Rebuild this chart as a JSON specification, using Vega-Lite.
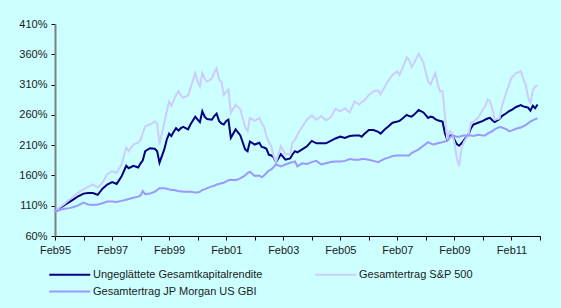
{
  "$schema": "https://vega.github.io/schema/vega-lite/v6.json",
  "width": 485,
  "height": 212,
  "autosize": "none",
  "padding": {"left": 55, "top": 24, "right": 21, "bottom": 72},
  "background": "#CCFFFF",
  "config": {"view": {"stroke": null}, "font": "Liberation Sans"},
  "data": {
    "values": [
      {"Datum": "1995-02-01", "U": 100, "S": 100, "J": 100},
      {"Datum": "1995-04-01", "U": 106, "S": 107, "J": 103},
      {"Datum": "1995-06-01", "U": 111, "S": 113, "J": 105},
      {"Datum": "1995-08-01", "U": 116, "S": 120, "J": 106},
      {"Datum": "1995-10-01", "U": 121, "S": 126, "J": 108},
      {"Datum": "1995-12-01", "U": 126, "S": 132, "J": 111},
      {"Datum": "1996-02-01", "U": 130, "S": 137, "J": 115},
      {"Datum": "1996-04-01", "U": 131, "S": 141, "J": 112},
      {"Datum": "1996-06-01", "U": 131, "S": 145, "J": 111},
      {"Datum": "1996-08-01", "U": 128, "S": 140, "J": 112},
      {"Datum": "1996-10-01", "U": 138, "S": 148, "J": 114},
      {"Datum": "1996-12-01", "U": 145, "S": 162, "J": 117},
      {"Datum": "1997-02-01", "U": 149, "S": 167, "J": 117},
      {"Datum": "1997-04-01", "U": 146, "S": 164, "J": 116},
      {"Datum": "1997-06-01", "U": 158, "S": 178, "J": 118},
      {"Datum": "1997-08-01", "U": 176, "S": 206, "J": 120},
      {"Datum": "1997-09-01", "U": 172, "S": 200, "J": 121},
      {"Datum": "1997-11-01", "U": 176, "S": 211, "J": 123},
      {"Datum": "1998-01-01", "U": 173, "S": 214, "J": 125},
      {"Datum": "1998-02-01", "U": 180, "S": 219, "J": 127},
      {"Datum": "1998-03-01", "U": 185, "S": 230, "J": 134},
      {"Datum": "1998-04-01", "U": 200, "S": 241, "J": 129},
      {"Datum": "1998-06-01", "U": 205, "S": 244, "J": 130},
      {"Datum": "1998-08-01", "U": 204, "S": 249, "J": 133},
      {"Datum": "1998-09-01", "U": 200, "S": 246, "J": 136},
      {"Datum": "1998-10-01", "U": 181, "S": 211, "J": 139},
      {"Datum": "1998-12-01", "U": 203, "S": 247, "J": 139},
      {"Datum": "1999-01-01", "U": 219, "S": 265, "J": 138},
      {"Datum": "1999-02-01", "U": 229, "S": 282, "J": 137},
      {"Datum": "1999-03-01", "U": 225, "S": 275, "J": 136},
      {"Datum": "1999-04-01", "U": 232, "S": 284, "J": 136},
      {"Datum": "1999-05-01", "U": 238, "S": 293, "J": 135},
      {"Datum": "1999-06-01", "U": 234, "S": 299, "J": 134},
      {"Datum": "1999-07-01", "U": 238, "S": 292, "J": 134},
      {"Datum": "1999-08-01", "U": 240, "S": 288, "J": 133},
      {"Datum": "1999-10-01", "U": 236, "S": 292, "J": 133},
      {"Datum": "1999-11-01", "U": 244, "S": 304, "J": 133},
      {"Datum": "2000-01-01", "U": 257, "S": 329, "J": 132},
      {"Datum": "2000-02-01", "U": 252, "S": 315, "J": 132},
      {"Datum": "2000-03-01", "U": 248, "S": 307, "J": 133},
      {"Datum": "2000-04-01", "U": 266, "S": 329, "J": 136},
      {"Datum": "2000-05-01", "U": 257, "S": 320, "J": 137},
      {"Datum": "2000-06-01", "U": 253, "S": 315, "J": 139},
      {"Datum": "2000-08-01", "U": 252, "S": 320, "J": 142},
      {"Datum": "2000-09-01", "U": 258, "S": 330, "J": 143},
      {"Datum": "2000-10-01", "U": 262, "S": 337, "J": 145},
      {"Datum": "2000-11-01", "U": 250, "S": 318, "J": 146},
      {"Datum": "2000-12-01", "U": 246, "S": 315, "J": 147},
      {"Datum": "2001-01-01", "U": 244, "S": 293, "J": 148},
      {"Datum": "2001-02-01", "U": 250, "S": 298, "J": 150},
      {"Datum": "2001-03-01", "U": 252, "S": 302, "J": 152},
      {"Datum": "2001-04-01", "U": 222, "S": 263, "J": 153},
      {"Datum": "2001-06-01", "U": 236, "S": 277, "J": 152},
      {"Datum": "2001-08-01", "U": 226, "S": 269, "J": 155},
      {"Datum": "2001-10-01", "U": 203, "S": 240, "J": 160},
      {"Datum": "2001-11-01", "U": 200, "S": 233, "J": 164},
      {"Datum": "2001-12-01", "U": 216, "S": 255, "J": 166},
      {"Datum": "2002-02-01", "U": 211, "S": 250, "J": 159},
      {"Datum": "2002-04-01", "U": 214, "S": 255, "J": 160},
      {"Datum": "2002-05-01", "U": 207, "S": 246, "J": 157},
      {"Datum": "2002-06-01", "U": 206, "S": 240, "J": 160},
      {"Datum": "2002-07-01", "U": 204, "S": 225, "J": 164},
      {"Datum": "2002-08-01", "U": 194, "S": 215, "J": 168},
      {"Datum": "2002-09-01", "U": 193, "S": 208, "J": 170},
      {"Datum": "2002-10-01", "U": 190, "S": 192, "J": 174},
      {"Datum": "2002-11-01", "U": 182, "S": 182, "J": 178},
      {"Datum": "2003-01-01", "U": 195, "S": 208, "J": 175},
      {"Datum": "2003-03-01", "U": 186, "S": 195, "J": 178},
      {"Datum": "2003-05-01", "U": 188, "S": 195, "J": 181},
      {"Datum": "2003-06-01", "U": 195, "S": 215, "J": 182},
      {"Datum": "2003-07-01", "U": 200, "S": 219, "J": 183},
      {"Datum": "2003-08-01", "U": 198, "S": 227, "J": 175},
      {"Datum": "2003-10-01", "U": 203, "S": 240, "J": 180},
      {"Datum": "2003-12-01", "U": 208, "S": 252, "J": 179},
      {"Datum": "2004-02-01", "U": 217, "S": 259, "J": 182},
      {"Datum": "2004-04-01", "U": 213, "S": 252, "J": 184},
      {"Datum": "2004-06-01", "U": 213, "S": 258, "J": 178},
      {"Datum": "2004-08-01", "U": 213, "S": 251, "J": 180},
      {"Datum": "2004-10-01", "U": 217, "S": 256, "J": 182},
      {"Datum": "2004-12-01", "U": 221, "S": 270, "J": 183},
      {"Datum": "2005-02-01", "U": 224, "S": 266, "J": 183},
      {"Datum": "2005-04-01", "U": 222, "S": 271, "J": 184},
      {"Datum": "2005-06-01", "U": 225, "S": 264, "J": 187},
      {"Datum": "2005-08-01", "U": 226, "S": 282, "J": 186},
      {"Datum": "2005-10-01", "U": 226, "S": 277, "J": 186},
      {"Datum": "2005-11-01", "U": 224, "S": 281, "J": 187},
      {"Datum": "2005-12-01", "U": 228, "S": 283, "J": 187},
      {"Datum": "2006-02-01", "U": 235, "S": 293, "J": 186},
      {"Datum": "2006-04-01", "U": 235, "S": 299, "J": 184},
      {"Datum": "2006-06-01", "U": 232, "S": 300, "J": 182},
      {"Datum": "2006-07-01", "U": 229, "S": 294, "J": 184},
      {"Datum": "2006-09-01", "U": 237, "S": 308, "J": 188},
      {"Datum": "2006-10-01", "U": 240, "S": 315, "J": 189},
      {"Datum": "2006-12-01", "U": 247, "S": 326, "J": 192},
      {"Datum": "2007-02-01", "U": 249, "S": 332, "J": 193},
      {"Datum": "2007-03-01", "U": 250, "S": 326, "J": 193},
      {"Datum": "2007-04-01", "U": 253, "S": 335, "J": 193},
      {"Datum": "2007-06-01", "U": 260, "S": 355, "J": 193},
      {"Datum": "2007-07-01", "U": 258, "S": 351, "J": 193},
      {"Datum": "2007-08-01", "U": 257, "S": 339, "J": 197},
      {"Datum": "2007-09-01", "U": 260, "S": 345, "J": 199},
      {"Datum": "2007-11-01", "U": 268, "S": 361, "J": 203},
      {"Datum": "2008-01-01", "U": 264, "S": 346, "J": 209},
      {"Datum": "2008-03-01", "U": 255, "S": 315, "J": 215},
      {"Datum": "2008-04-01", "U": 257, "S": 310, "J": 213},
      {"Datum": "2008-05-01", "U": 256, "S": 320, "J": 211},
      {"Datum": "2008-06-01", "U": 253, "S": 329, "J": 212},
      {"Datum": "2008-07-01", "U": 251, "S": 310, "J": 213},
      {"Datum": "2008-08-01", "U": 250, "S": 299, "J": 214},
      {"Datum": "2008-09-01", "U": 249, "S": 299, "J": 215},
      {"Datum": "2008-10-01", "U": 230, "S": 260, "J": 216},
      {"Datum": "2008-11-01", "U": 219, "S": 219, "J": 217},
      {"Datum": "2008-12-01", "U": 225, "S": 233, "J": 222},
      {"Datum": "2009-01-01", "U": 227, "S": 230, "J": 226},
      {"Datum": "2009-02-01", "U": 219, "S": 214, "J": 225},
      {"Datum": "2009-03-01", "U": 212, "S": 190, "J": 224},
      {"Datum": "2009-04-01", "U": 209, "S": 175, "J": 224},
      {"Datum": "2009-05-01", "U": 213, "S": 203, "J": 225},
      {"Datum": "2009-06-01", "U": 218, "S": 215, "J": 226},
      {"Datum": "2009-08-01", "U": 228, "S": 228, "J": 226},
      {"Datum": "2009-09-01", "U": 238, "S": 247, "J": 226},
      {"Datum": "2009-10-01", "U": 244, "S": 249, "J": 225},
      {"Datum": "2009-12-01", "U": 247, "S": 255, "J": 227},
      {"Datum": "2010-02-01", "U": 250, "S": 269, "J": 226},
      {"Datum": "2010-03-01", "U": 252, "S": 274, "J": 226},
      {"Datum": "2010-04-01", "U": 254, "S": 285, "J": 229},
      {"Datum": "2010-05-01", "U": 255, "S": 283, "J": 231},
      {"Datum": "2010-06-01", "U": 251, "S": 270, "J": 233},
      {"Datum": "2010-07-01", "U": 248, "S": 252, "J": 236},
      {"Datum": "2010-09-01", "U": 253, "S": 254, "J": 240},
      {"Datum": "2010-10-01", "U": 258, "S": 274, "J": 239},
      {"Datum": "2010-12-01", "U": 263, "S": 299, "J": 236},
      {"Datum": "2011-01-01", "U": 266, "S": 310, "J": 233},
      {"Datum": "2011-02-01", "U": 268, "S": 321, "J": 234},
      {"Datum": "2011-04-01", "U": 273, "S": 329, "J": 237},
      {"Datum": "2011-06-01", "U": 276, "S": 332, "J": 239},
      {"Datum": "2011-07-01", "U": 274, "S": 320, "J": 241},
      {"Datum": "2011-08-01", "U": 273, "S": 310, "J": 243},
      {"Datum": "2011-09-01", "U": 272, "S": 290, "J": 246},
      {"Datum": "2011-10-01", "U": 267, "S": 278, "J": 249},
      {"Datum": "2011-11-01", "U": 275, "S": 300, "J": 251},
      {"Datum": "2011-12-01", "U": 271, "S": 307, "J": 253},
      {"Datum": "2012-01-01", "U": 277, "S": 308, "J": 254}
    ]
  },
  "transform": [
    {"fold": ["U", "S", "J"], "as": ["Code", "Wert"]},
    {"lookup": "Code", "from": {"data": {"values": [
      {"Code": "U", "Serie": "Ungeglättete Gesamtkapitalrendite"},
      {"Code": "S", "Serie": "Gesamtertrag S&P 500"},
      {"Code": "J", "Serie": "Gesamtertrag JP Morgan US GBI"}
    ]}, "key": "Code", "fields": ["Serie"]}}
  ],
  "mark": {"type": "line", "strokeWidth": 2},
  "encoding": {
    "x": {
      "field": "Datum",
      "type": "temporal",
      "scale": {"type": "utc", "domain": [{"year": 1995, "month": 2, "date": 1, "utc": true}, {"year": 2012, "month": 2, "date": 1, "utc": true}]},
      "axis": {
        "title": null,
        "grid": false,
        "values": [
          {"year": 1995, "month": 2, "date": 1, "utc": true},
          {"year": 1996, "month": 2, "date": 1, "utc": true},
          {"year": 1997, "month": 2, "date": 1, "utc": true},
          {"year": 1998, "month": 2, "date": 1, "utc": true},
          {"year": 1999, "month": 2, "date": 1, "utc": true},
          {"year": 2000, "month": 2, "date": 1, "utc": true},
          {"year": 2001, "month": 2, "date": 1, "utc": true},
          {"year": 2002, "month": 2, "date": 1, "utc": true},
          {"year": 2003, "month": 2, "date": 1, "utc": true},
          {"year": 2004, "month": 2, "date": 1, "utc": true},
          {"year": 2005, "month": 2, "date": 1, "utc": true},
          {"year": 2006, "month": 2, "date": 1, "utc": true},
          {"year": 2007, "month": 2, "date": 1, "utc": true},
          {"year": 2008, "month": 2, "date": 1, "utc": true},
          {"year": 2009, "month": 2, "date": 1, "utc": true},
          {"year": 2010, "month": 2, "date": 1, "utc": true},
          {"year": 2011, "month": 2, "date": 1, "utc": true},
          {"year": 2012, "month": 2, "date": 1, "utc": true}
        ],
        "labelExpr": "(utcyear(datum.value) - 1995) % 2 == 0 && utcyear(datum.value) < 2012 ? utcFormat(datum.value, '%b%y') : ''",
        "labelAngle": 0,
        "labelFlush": false,
        "labelOverlap": false,
        "labelFontSize": 11,
        "labelColor": "#1a1a1a",
        "labelPadding": 4,
        "tickSize": 4,
        "tickColor": "#000000",
        "domainColor": "#000000",
        "domainWidth": 1
      }
    },
    "y": {
      "field": "Wert",
      "type": "quantitative",
      "scale": {"domain": [60, 410], "nice": false, "zero": false},
      "axis": {
        "title": null,
        "grid": false,
        "values": [60, 110, 160, 210, 260, 310, 360, 410],
        "labelExpr": "datum.value + '%'",
        "labelFontSize": 11,
        "labelColor": "#1a1a1a",
        "labelPadding": 4,
        "tickSize": 4,
        "tickColor": "#000000",
        "domainColor": "#808080",
        "domainWidth": 2
      }
    },
    "color": {
      "field": "Serie",
      "type": "nominal",
      "scale": {
        "domain": ["Ungeglättete Gesamtkapitalrendite", "Gesamtertrag S&P 500", "Gesamtertrag JP Morgan US GBI"],
        "range": ["#000080", "#CCCCFF", "#9999FF"]
      },
      "legend": {
        "title": null,
        "orient": "none",
        "legendX": -7,
        "legendY": 239,
        "direction": "horizontal",
        "columns": 2,
        "columnPadding": 48,
        "rowPadding": 0,
        "symbolType": "M-1,0H3",
        "symbolSize": 420,
        "symbolStrokeWidth": 2,
        "labelFontSize": 11,
        "labelColor": "#1a1a1a",
        "labelOffset": 22,
        "labelLimit": 400,
        "padding": 0
      }
    }
  }
}
